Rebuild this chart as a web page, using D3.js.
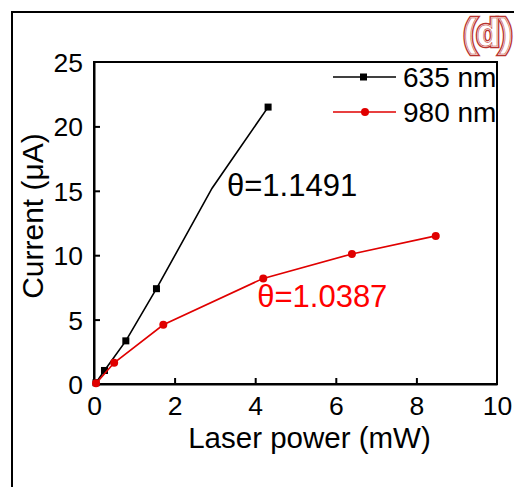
<!DOCTYPE html>
<html>
<head>
<meta charset="utf-8">
<script src="https://cdn.jsdelivr.net/npm/d3@7"></script>
<style>
  body { margin: 0; background: #fff; }
  text { font-family: "Liberation Sans", Arial, sans-serif; }
</style>
</head>
<body>
<div id="chart"></div>
<script>
// data
var xTicks = [0, 2, 4, 6, 8, 10];
var yTicks = [0, 5, 10, 15, 20, 25];
var seriesNames = ["635 nm", "980 nm"];
// 635 nm: line vertices, markers only where mark = 1
var x635 = [0.05, 0.26, 0.79, 1.55, 2.93, 3.37, 4.32];
var y635 = [0.1, 1.05, 3.35, 7.4, 15.2, 17.2, 21.5];
var m635 = [1, 1, 1, 1, 0, 0, 1];
var x980 = [0.05, 0.5, 1.72, 4.2, 6.4, 8.48];
var y980 = [0.05, 1.65, 4.6, 8.2, 10.1, 11.5];
var labels = ["θ=1.1491", "θ=1.0387"];

var W = 514, H = 487;
var margin = { top: 62, right: 17, bottom: 103, left: 94 },
    width = W - margin.left - margin.right,
    height = H - margin.top - margin.bottom;

var svg = d3.select("#chart").append("svg")
    .attr("width", W)
    .attr("height", H);

// outer frame (left and top only)
svg.append("path")
    .attr("d", "M12," + H + "V12H" + W)
    .attr("fill", "none")
    .attr("stroke", "#000")
    .attr("stroke-width", 2);

// panel label, double outlined
var lab = svg.append("g").attr("transform", "translate(488,46)");
lab.append("text").text("(d)")
    .attr("text-anchor", "middle")
    .style("font-size", "38px").style("font-weight", "bold")
    .attr("fill", "#fff").attr("stroke", "#b8332e").attr("stroke-width", 4.5);
lab.append("text").text("(d)")
    .attr("text-anchor", "middle")
    .style("font-size", "38px").style("font-weight", "bold")
    .attr("fill", "#fff").attr("stroke", "#fff").attr("stroke-width", 1.6);
lab.append("text").text("(d)")
    .attr("text-anchor", "middle")
    .style("font-size", "38px").style("font-weight", "bold")
    .attr("fill", "none").attr("stroke", "#c9504a").attr("stroke-width", 0.6);

var g = svg.append("g")
    .attr("transform", "translate(" + margin.left + "," + margin.top + ")");

var x = d3.scaleLinear().domain([0, 10]).range([0, width]);
var y = d3.scaleLinear().domain([0, 25]).range([height, 0]);

// frame of plot
g.append("rect")
    .attr("width", width).attr("height", height)
    .attr("fill", "none").attr("stroke", "#000").attr("stroke-width", 2);

var xAxis = g.append("g")
    .attr("transform", "translate(0," + height + ")")
    .call(d3.axisBottom(x).tickValues(xTicks).tickSizeInner(-6).tickSizeOuter(0).tickPadding(12));
var yAxis = g.append("g")
    .call(d3.axisLeft(y).tickValues(yTicks).tickSizeInner(-6).tickSizeOuter(0).tickPadding(11));

[xAxis, yAxis].forEach(function (a) {
  a.select(".domain").attr("stroke-width", 2);
  a.selectAll(".tick line").attr("stroke-width", 2);
  a.selectAll(".tick text")
    .style("font-family", "Liberation Sans, Arial, sans-serif")
    .style("font-size", "26.5px").attr("fill", "#000");
});
xAxis.selectAll(".tick text").attr("dy", "0.72em");
yAxis.selectAll(".tick text").attr("dy", "0.36em");
// no tick marks at the frame corners
xAxis.selectAll(".tick").filter(function (d) { return d === 0 || d === 10; }).select("line").remove();
yAxis.selectAll(".tick").filter(function (d) { return d === 0 || d === 25; }).select("line").remove();

// axis titles
svg.append("text")
    .attr("x", margin.left + width / 2 + 14).attr("y", 448)
    .attr("text-anchor", "middle")
    .style("font-size", "29.5px")
    .text("Laser power (mW)");
svg.append("text")
    .attr("transform", "translate(43," + 216 + ") rotate(-90)")
    .attr("text-anchor", "middle")
    .style("font-size", "30px")
    .text("Current (μA)");

var line = d3.line().x(function (d) { return x(d[0]); }).y(function (d) { return y(d[1]); });

var d635 = x635.map(function (v, i) { return [v, y635[i], m635[i]]; });
var d980 = x980.map(function (v, i) { return [v, y980[i]]; });

g.append("path").datum(d635)
    .attr("d", line).attr("fill", "none").attr("stroke", "#000").attr("stroke-width", 1.6);
g.selectAll(".sq").data(d635.filter(function (d) { return d[2]; }))
  .enter().append("rect")
    .attr("x", function (d) { return x(d[0]) - 3.5; })
    .attr("y", function (d) { return y(d[1]) - 3.5; })
    .attr("width", 7).attr("height", 7).attr("fill", "#000");

g.append("path").datum(d980)
    .attr("d", line).attr("fill", "none").attr("stroke", "#e00000").attr("stroke-width", 1.6);
g.selectAll(".ci").data(d980)
  .enter().append("circle")
    .attr("cx", function (d) { return x(d[0]); })
    .attr("cy", function (d) { return y(d[1]); })
    .attr("r", 4).attr("fill", "#e00000");

// legend
var colors = ["#000", "#e00000"];
var leg = svg.append("g").selectAll("g").data(seriesNames).enter().append("g")
    .attr("transform", function (d, i) { return "translate(333," + (77 + i * 35) + ")"; });
leg.append("line").attr("x1", 0).attr("x2", 63)
    .attr("stroke", function (d, i) { return colors[i]; }).attr("stroke-width", 1.6);
leg.filter(function (d, i) { return i === 0; }).append("rect")
    .attr("x", 27).attr("y", -3.5).attr("width", 7).attr("height", 7).attr("fill", "#000");
leg.filter(function (d, i) { return i === 1; }).append("circle")
    .attr("cx", 32).attr("r", 4).attr("fill", "#e00000");
leg.append("text").attr("x", 70).attr("y", 10)
    .style("font-size", "28px").text(function (d) { return d; });

// annotations
var note = g.append("g").style("font-family", "'Noto Sans', 'Open Sans', sans-serif");
note.append("text").attr("x", x(3.3)).attr("y", y(14.6))
    .style("font-size", "31px").attr("fill", "#000").text(labels[0]);
note.append("text").attr("x", x(4.05)).attr("y", y(6.0))
    .style("font-size", "31px").attr("fill", "#ff0000").text(labels[1]);
</script>
</body>
</html>
